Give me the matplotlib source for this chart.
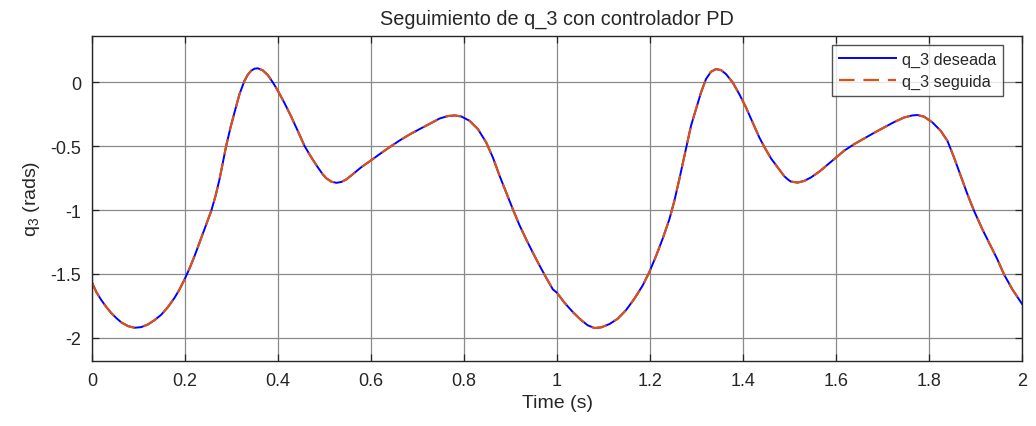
import matplotlib
matplotlib.use("Agg")
import matplotlib.pyplot as plt

# ---- data ----
time_s = [0.000, 0.0093, 0.0200, 0.0308, 0.0415, 0.0523, 0.0630, 0.0773, 0.0917, 0.1060,
          0.1203, 0.1346, 0.1489, 0.1633, 0.1776, 0.1883, 0.1991, 0.2098, 0.2206, 0.2313,
          0.2420, 0.2564, 0.2657, 0.2743, 0.2814, 0.2886, 0.2979, 0.3065, 0.3172, 0.3280,
          0.3351, 0.3423, 0.3495, 0.3566, 0.3673, 0.3781, 0.3888, 0.3996, 0.4139, 0.4282,
          0.4425, 0.4569, 0.4712, 0.4855, 0.4962, 0.5041, 0.5149, 0.5256, 0.5363, 0.5471,
          0.5614, 0.5793, 0.5986, 0.6187, 0.6402, 0.6617, 0.6831, 0.7046, 0.7261, 0.7476,
          0.7655, 0.7798, 0.7941, 0.8120, 0.8299, 0.8478, 0.8622, 0.8765, 0.8908, 0.9051,
          0.9194, 0.9338, 0.9481, 0.9624, 0.9767, 0.9910, 0.9997, 1.0161, 1.0340, 1.0519,
          1.0662, 1.0806, 1.0949, 1.1128, 1.1307, 1.1486, 1.1665, 1.1844, 1.1987, 1.2130,
          1.2273, 1.2417, 1.2524, 1.2631, 1.2717, 1.2789, 1.2882, 1.2990, 1.3097, 1.3204,
          1.3312, 1.3419, 1.3527, 1.3634, 1.3777, 1.3920, 1.4064, 1.4207, 1.4350, 1.4458,
          1.4601, 1.4744, 1.4887, 1.4980, 1.5030, 1.5174, 1.5317, 1.5460, 1.5639, 1.5818,
          1.5997, 1.6176, 1.6391, 1.6606, 1.6821, 1.7036, 1.7250, 1.7465, 1.7644, 1.7752,
          1.7895, 1.8074, 1.8253, 1.8396, 1.8539, 1.8683, 1.8826, 1.8969, 1.9148, 1.9327,
          1.9470, 1.9613, 1.9792, 2.0000]

q3_deseada = [-1.569, -1.642, -1.705, -1.760, -1.807, -1.846, -1.880, -1.909, -1.922, -1.917,
              -1.896, -1.862, -1.820, -1.760, -1.687, -1.621, -1.543, -1.457, -1.360, -1.255,
              -1.151, -1.007, -0.889, -0.758, -0.627, -0.497, -0.353, -0.235, -0.092, 0.013,
              0.060, 0.091, 0.107, 0.110, 0.094, 0.057, 0.000, -0.065, -0.162, -0.267,
              -0.380, -0.497, -0.585, -0.665, -0.720, -0.752, -0.778, -0.787, -0.780, -0.760,
              -0.718, -0.664, -0.615, -0.562, -0.507, -0.455, -0.408, -0.366, -0.325, -0.283,
              -0.264, -0.259, -0.267, -0.301, -0.366, -0.471, -0.589, -0.732, -0.863, -0.994,
              -1.119, -1.230, -1.334, -1.434, -1.530, -1.621, -1.647, -1.726, -1.799, -1.862,
              -1.903, -1.924, -1.919, -1.893, -1.851, -1.783, -1.694, -1.590, -1.485, -1.360,
              -1.224, -1.072, -0.928, -0.758, -0.615, -0.497, -0.340, -0.209, -0.079, 0.026,
              0.083, 0.104, 0.096, 0.065, 0.000, -0.092, -0.196, -0.314, -0.431, -0.505,
              -0.595, -0.665, -0.735, -0.765, -0.777, -0.785, -0.772, -0.745, -0.700, -0.645,
              -0.590, -0.535, -0.484, -0.439, -0.395, -0.353, -0.311, -0.275, -0.259, -0.256,
              -0.269, -0.314, -0.380, -0.458, -0.589, -0.732, -0.876, -1.007, -1.151, -1.282,
              -1.386, -1.504, -1.621, -1.735]

q3_seguida = list(q3_deseada)

xticks = [0, 0.2, 0.4, 0.6, 0.8, 1, 1.2, 1.4, 1.6, 1.8, 2]
xtick_labels = ["0", "0.2", "0.4", "0.6", "0.8", "1", "1.2", "1.4", "1.6", "1.8", "2"]
yticks = [-2, -1.5, -1, -0.5, 0]
ytick_labels = ["-2", "-1.5", "-1", "-0.5", "0"]

# ---- style ----
plt.rcParams['font.family'] = ['Liberation Sans', 'DejaVu Sans']
plt.rcParams['mathtext.fontset'] = 'custom'
plt.rcParams['mathtext.rm'] = 'Liberation Sans'
plt.rcParams['mathtext.it'] = 'Liberation Sans'

txt = '#262626'
fig = plt.figure(figsize=(10.36, 4.27), dpi=100)
fig.patch.set_facecolor('white')
ax = fig.add_axes([92/1036, 1-361.7/427, (1022-92)/1036, (361.7-37)/427])

ax.plot(time_s, q3_deseada, color='#0000ff', lw=1.4, label='q_3 deseada')
ax.plot(time_s, q3_seguida, color='#D95319', lw=1.6, ls=(0, (7, 4)), label='q_3 seguida')

ax.set_xlim(0, 2)
ax.set_ylim(-2.18, 0.363)
ax.set_xticks(xticks)
ax.set_xticklabels(xtick_labels)
ax.set_yticks(yticks)
ax.set_yticklabels(ytick_labels)

ax.grid(True, color='#8a8a8a', lw=0.9)
ax.set_axisbelow(True)
ax.tick_params(direction='in', top=True, right=True, length=5, width=0.9,
               colors=txt, labelsize=13, pad=8)
for s in ax.spines.values():
    s.set_color(txt)
    s.set_linewidth(1.0)

ax.set_title('Seguimiento de q_3 con controlador PD', fontsize=14.3, color=txt, pad=9)
ax.set_xlabel('Time (s)', fontsize=14, color=txt, labelpad=4)
ax.set_ylabel('q$_3$ (rads)', fontsize=14, color=txt, labelpad=6)

leg = ax.legend(loc='upper right', bbox_to_anchor=(0.9796, 0.9723), borderaxespad=0,
                fontsize=11.7, frameon=True, fancybox=False, handlelength=3.5,
                handletextpad=0.4, labelspacing=0.45, borderpad=0.4)
leg.get_frame().set_edgecolor(txt)
leg.get_frame().set_linewidth(1.0)
for t in leg.get_texts():
    t.set_color(txt)

fig.savefig('out.png', dpi=100, facecolor='white')
